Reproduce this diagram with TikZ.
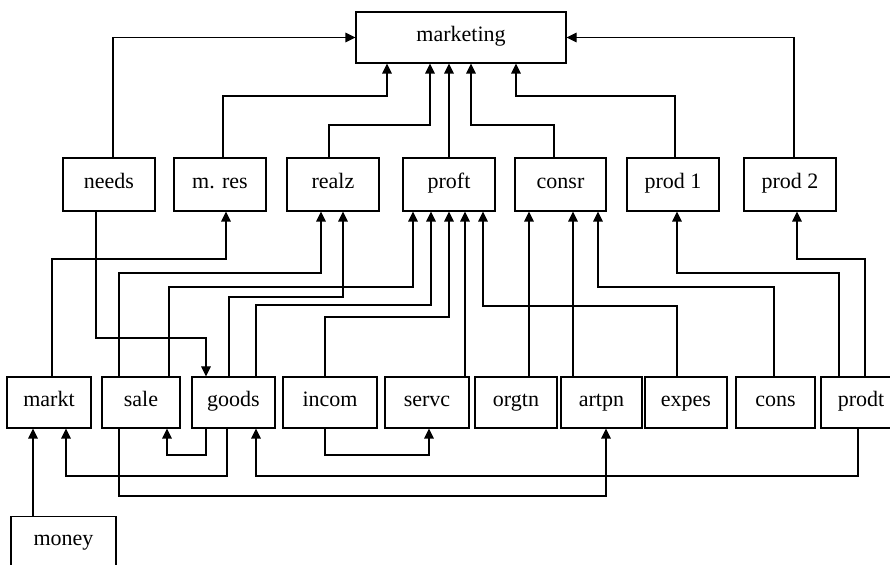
\documentclass[tikz,border=0pt]{standalone}
\usepackage{fontspec}
\setmainfont{Liberation Serif}
\usetikzlibrary{arrows.meta}

\begin{document}
\begin{tikzpicture}[x=0.5pt, y=-0.5pt, >={Triangle[length=5pt,width=4.8pt]}, line width=0.6pt,
  box/.style={draw, inner sep=0pt, minimum height=25.5pt, text height=7pt, text depth=3pt,
    font=\fontsize{11pt}{13pt}\selectfont},
  mid/.style={box, minimum width=46pt, minimum height=26.5pt}]
  \clip (0,0) rectangle (890,565);
  % top box and the middle row
  \node[box, minimum width=105pt] (marketing) at (461,37.5) {marketing};
  \node[mid] (needs) at (109,184.5) {needs};
  \node[mid] (mres) at (220,184.5) {m. res};
  \node[mid] (realz) at (333,184.5) {realz};
  \node[mid] (proft) at (449,184.5) {proft};
  \node[mid, minimum width=45.5pt] (consr) at (560.5,184.5) {consr};
  \node[mid] (prodA) at (673,184.5) {prod 1};
  \node[mid] (prodB) at (790,184.5) {prod 2};
  % bottom row
  \node[box, minimum width=42pt] (markt) at (49,402.5) {markt};
  \node[box, minimum width=39pt] (sale) at (141,402.5) {sale};
  \node[box, minimum width=41.5pt] (goods) at (233.5,402.5) {goods};
  \node[box, minimum width=47pt] (incom) at (330,402.5) {incom};
  \node[box, minimum width=42pt] (servc) at (427,402.5) {servc};
  \node[box, minimum width=41pt] (orgtn) at (516,402.5) {orgtn};
  \node[box, minimum width=40.5pt] (artpn) at (601.5,402.5) {artpn};
  \node[box, minimum width=41pt] (expes) at (686,402.5) {expes};
  \node[box, minimum width=39.5pt] (cons) at (775.5,402.5) {cons};
  \node[box, minimum width=40pt] (prodt) at (861,402.5) {prodt};
  \node[box, minimum width=52.5pt] (money) at (63.5,542) {money};

  % into marketing
  \draw[->] (113,0 |- needs.north) |- (marketing.west);
  \draw[->] (223,0 |- mres.north) |- (387,96) -- (387,0 |- marketing.south);
  \draw[->] (329,0 |- realz.north) |- (430,125) -- (430,0 |- marketing.south);
  \draw[->] (449,0 |- proft.north) -- (449,0 |- marketing.south);
  \draw[->] (554,0 |- consr.north) |- (471,125) -- (471,0 |- marketing.south);
  \draw[->] (675,0 |- prodA.north) |- (516,96) -- (516,0 |- marketing.south);
  \draw[->] (794,0 |- prodB.north) |- (marketing.east);

  % bottom row up to the middle row
  \draw[->] (96,0 |- needs.south) |- (206,338) -- (206,0 |- goods.north);
  \draw[->] (52,0 |- markt.north) |- (226,259) -- (226,0 |- mres.south);
  \draw[->] (119,0 |- sale.north) |- (321,273) -- (321,0 |- realz.south);
  \draw[->] (169,0 |- sale.north) |- (413,287) -- (413,0 |- proft.south);
  \draw[->] (229,0 |- goods.north) |- (343,297) -- (343,0 |- realz.south);
  \draw[->] (256,0 |- goods.north) |- (431,305) -- (431,0 |- proft.south);
  \draw[->] (325,0 |- incom.north) |- (449,317) -- (449,0 |- proft.south);
  \draw[->] (465,0 |- servc.north) -- (465,0 |- proft.south);
  \draw[->] (677,0 |- expes.north) |- (483,306) -- (483,0 |- proft.south);
  \draw[->] (529,0 |- orgtn.north) -- (529,0 |- consr.south);
  \draw[->] (573,0 |- artpn.north) -- (573,0 |- consr.south);
  \draw[->] (774,0 |- cons.north) |- (598,287) -- (598,0 |- consr.south);
  \draw[->] (839,0 |- prodt.north) |- (677,273) -- (677,0 |- prodA.south);
  \draw[->] (865,0 |- prodt.north) |- (797,259) -- (797,0 |- prodB.south);

  % loops under the bottom row
  \draw[->] (33,0 |- money.north) -- (33,0 |- markt.south);
  \draw[->] (206,0 |- goods.south) |- (167,455) -- (167,0 |- sale.south);
  \draw[->] (227,0 |- goods.south) |- (66,476) -- (66,0 |- markt.south);
  \draw[->] (325,0 |- incom.south) |- (429,455) -- (429,0 |- servc.south);
  \draw[->] (858,0 |- prodt.south) |- (256,476) -- (256,0 |- goods.south);
  \draw[->] (119,0 |- sale.south) |- (606,496) -- (606,0 |- artpn.south);
\end{tikzpicture}
\end{document}
